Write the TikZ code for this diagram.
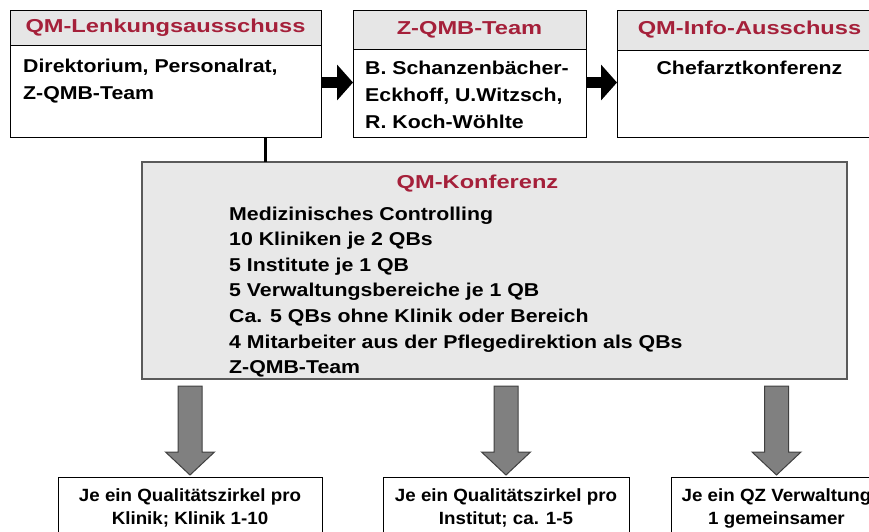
\documentclass[tikz,border=0pt]{standalone}
\usepackage{fontspec}
\setmainfont{Liberation Sans}[FakeStretch=1.145]
\newfontfamily\headfont{Liberation Sans}[FakeStretch=1.265]
\newfontfamily\boxfont{Liberation Sans}[FakeStretch=1.06]
\usepackage{tikz}
\usetikzlibrary{positioning, arrows.meta, calc}

\definecolor{qmred}{RGB}{165,32,58}
\definecolor{headgray}{RGB}{230,230,230}
\definecolor{confgray}{RGB}{232,232,232}
\definecolor{arrowgray}{RGB}{128,128,128}
\definecolor{arrowrim}{RGB}{64,64,64}
\definecolor{confrim}{RGB}{90,90,90}

\tikzset{
  panel/.style={draw, line width=1pt, fill=white, inner sep=0pt, outer sep=0pt, anchor=north west},
  headbar/.style={draw, line width=1pt, fill=headgray, inner sep=0pt, outer sep=0pt, anchor=north west,
    text=qmred, font=\headfont\bfseries\fontsize{18.7}{20}\selectfont},
  bodytext/.style={inner sep=0pt, anchor=base west, align=left, font=\bfseries\fontsize{18.6}{27}\selectfont},
  bottext/.style={inner sep=0pt, anchor=base, align=center, font=\boxfont\bfseries\fontsize{17.7}{23}\selectfont},
  flow/.style={line width=11pt, -{Triangle[length=16pt, width=35pt]}},
  bigdown/.style={draw=arrowrim, line width=1pt, fill=arrowgray, line join=miter}
}

\begin{document}
\begin{tikzpicture}[x=1pt, y=-1pt]
  \useasboundingbox (0,0) rectangle (869,531);

  % top row
  \node[panel, minimum width=311, minimum height=127] (lenk) at (10,10) {};
  \node[headbar, minimum width=311, minimum height=35] (lenkhead) at (lenk.north west) {QM-Lenkungsausschuss};
  \node[bodytext] (lenktext) at (23,99) {Direktorium, Personalrat,\\Z-QMB-Team};

  \node[panel, minimum width=233, minimum height=127] (zqmb) at (353,10) {};
  \node[headbar, minimum width=233, minimum height=39] (zqmbhead) at (zqmb.north west) {Z-QMB-Team};
  \node[bodytext] (zqmbtext) at (365,128) {B. Schanzenbächer-\\Eckhoff, U.Witzsch,\\R. Koch-Wöhlte};

  \node[panel, minimum width=265, minimum height=127] (info) at (617,10) {};
  \node[headbar, minimum width=265, minimum height=40] (infohead) at (info.north west) {QM-Info-Ausschuss};
  \node[bodytext, anchor=base] (infotext) at (749.5,74) {Chefarztkonferenz};

  \draw[flow] ([yshift=-9]lenk.east) -- ([yshift=-9]zqmb.west);
  \draw[flow] ([yshift=-9]zqmb.east) -- ([yshift=-9]info.west);

  % konferenz
  \node[panel, draw=confrim, line width=1.5pt, fill=confgray, minimum width=705, minimum height=217] (conf) at (142,162) {};
  \node[inner sep=0pt, anchor=base, text=qmred, font=\headfont\bfseries\fontsize{18.7}{20}\selectfont] (conftitle) at (477.5,188) {QM-Konferenz};
  \foreach \t [count=\i] in {Medizinisches Controlling, 10 Kliniken je 2 QBs, 5 Institute je 1 QB,
      5 Verwaltungsbereiche je 1 QB, Ca. 5 QBs ohne Klinik oder Bereich,
      4 Mitarbeiter aus der Pflegedirektion als QBs, Z-QMB-Team}
    \node[bodytext] (cl\i) at (229,{220+25.65*(\i-1)}) {\t};

  \draw[line width=3pt] ([xshift=-56]lenk.south east) -- ([xshift=-56]lenk.south east |- conf.north);

  % zirkel
  \node[panel, minimum width=264, minimum height=68] (qza) at (58,477) {};
  \node[panel, minimum width=246, minimum height=68] (qzb) at (383,477) {};
  \node[panel, minimum width=211, minimum height=68] (qzc) at (671,477) {};
  \node[bottext] (qzatext) at (190,524) {Je ein Qualitätszirkel pro\\Klinik; Klinik 1-10};
  \node[bottext] (qzbtext) at (506,524) {Je ein Qualitätszirkel pro\\Institut; ca. 1-5};
  \node[bottext] (qzctext) at (776.5,524) {Je ein QZ Verwaltung\\1 gemeinsamer};

  \foreach \b in {qza, qzb, qzc}
    \draw[bigdown] ([yshift=2]\b.north) -- ++(-24.5,-23) -- ++(12.5,0) -- ++(0,-66) -- ++(24,0) -- ++(0,66) -- ++(12.5,0) -- cycle;
\end{tikzpicture}
\end{document}
